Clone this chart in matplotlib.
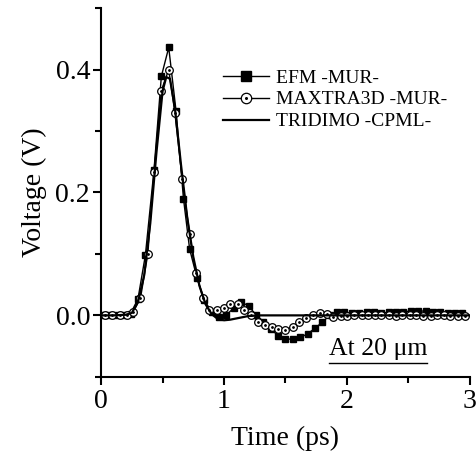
import matplotlib
matplotlib.use("Agg")
import matplotlib.pyplot as plt
from matplotlib.ticker import MultipleLocator
from matplotlib.lines import Line2D
from matplotlib.legend_handler import HandlerTuple

plt.rcParams.update({
    "font.family": ["Liberation Serif", "DejaVu Serif"],
    "axes.linewidth": 1.5,
    "xtick.major.width": 1.5,
    "ytick.major.width": 1.5,
    "xtick.minor.width": 1.5,
    "ytick.minor.width": 1.5,
    "xtick.major.size": 6,
    "ytick.major.size": 6,
    "xtick.minor.size": 4,
    "ytick.minor.size": 4,
    "xtick.direction": "out",
    "ytick.direction": "out",
})

# ---- data ----
efm_t = [0.00, 0.06, 0.12, 0.18, 0.24, 0.30, 0.36, 0.43, 0.49, 0.55, 0.61,
         0.67, 0.72, 0.78, 0.84, 0.90, 0.96, 1.02, 1.08, 1.14, 1.20, 1.26,
         1.32, 1.38, 1.44, 1.50, 1.56, 1.62, 1.68, 1.74, 1.80, 1.86, 1.92,
         1.98, 2.04, 2.10, 2.16, 2.22, 2.28, 2.34, 2.40, 2.46, 2.52, 2.58,
         2.64, 2.70, 2.76, 2.82, 2.88, 2.94]
efm_v = [0.000, 0.000, 0.000, 0.000, 0.003, 0.027, 0.098, 0.236, 0.389, 0.436,
         0.332, 0.190, 0.108, 0.061, 0.025, 0.005, -0.003, 0.001, 0.012, 0.022,
         0.015, 0.001, -0.010, -0.022, -0.033, -0.038, -0.039, -0.036, -0.030,
         -0.021, -0.011, 0.000, 0.005, 0.005, 0.004, 0.004, 0.005, 0.005,
         0.004, 0.005, 0.005, 0.006, 0.007, 0.007, 0.007, 0.006, 0.005, 0.004,
         0.004, 0.004]

max_t = [0.03, 0.09, 0.15, 0.21, 0.26, 0.32, 0.38, 0.43, 0.49, 0.55, 0.60,
         0.66, 0.72, 0.77, 0.83, 0.88, 0.94, 1.00, 1.05, 1.11, 1.16, 1.22,
         1.28, 1.33, 1.39, 1.44, 1.50, 1.56, 1.61, 1.67, 1.72, 1.78, 1.84,
         1.89, 1.95, 2.00, 2.06, 2.12, 2.17, 2.23, 2.28, 2.34, 2.40, 2.45,
         2.51, 2.56, 2.62, 2.68, 2.73, 2.79, 2.84, 2.90, 2.96]
max_v = [0.000, 0.000, 0.000, 0.000, 0.005, 0.028, 0.100, 0.234, 0.366, 0.400,
         0.330, 0.222, 0.133, 0.069, 0.028, 0.009, 0.008, 0.012, 0.018, 0.018,
         0.009, 0.000, -0.010, -0.015, -0.019, -0.022, -0.023, -0.019, -0.011,
         -0.004, 0.001, 0.004, 0.003, -0.002, -0.001, -0.001, 0.000, 0.000,
         0.001, 0.001, 0.000, 0.000, -0.001, 0.000, 0.000, 0.000, -0.001,
         -0.001, 0.000, 0.000, -0.001, -0.001, -0.001]

tri_t = [0.00, 0.10, 0.20, 0.25, 0.30, 0.35, 0.40, 0.45, 0.50, 0.53, 0.56,
         0.60, 0.65, 0.70, 0.75, 0.80, 0.85, 0.90, 0.95, 1.00, 1.05, 1.10,
         1.15, 1.20, 1.30, 1.50, 1.80, 2.00, 2.50, 3.00]
tri_v = [0.000, 0.000, 0.001, 0.004, 0.022, 0.065, 0.150, 0.265, 0.365, 0.388,
         0.385, 0.338, 0.245, 0.160, 0.095, 0.048, 0.018, 0.002, -0.006,
         -0.008, -0.007, -0.005, -0.003, -0.001, 0.000, 0.000, 0.000, 0.000,
         0.000, 0.000]

fig = plt.figure(figsize=(4.77, 4.54), dpi=100)
ax = fig.add_axes([0.212, 0.170, 0.773, 0.812])

ax.plot(efm_t, efm_v, color="black", lw=1.0, marker="s", ms=5,
        mfc="black", mec="black", zorder=2)
ax.plot(max_t, max_v, color="black", lw=1.0, marker="o", ms=5.5,
        mfc="white", mec="black", mew=0.9, zorder=3)
ax.plot(max_t, max_v, ls="none", marker="o", ms=1.0, color="black", zorder=4)
ax.plot(tri_t, tri_v, color="black", lw=1.6, zorder=5)

ax.set_xlim(0, 3)
ax.set_ylim(-0.1, 0.5)
ax.xaxis.set_major_locator(MultipleLocator(1))
ax.xaxis.set_minor_locator(MultipleLocator(0.5))
ax.yaxis.set_major_locator(MultipleLocator(0.2))
ax.yaxis.set_minor_locator(MultipleLocator(0.1))
ax.xaxis.set_major_formatter(plt.FuncFormatter(lambda v, p: f"{v:.0f}"))
ax.yaxis.set_major_formatter(plt.FuncFormatter(lambda v, p: f"{v:.1f}"))
ax.tick_params(axis="x", labelsize=20, pad=3)
ax.tick_params(axis="y", labelsize=20, pad=2)
for s in ("top", "right"):
    ax.spines[s].set_visible(False)

ax.set_xlabel("Time (ps)", fontsize=20, labelpad=8)
ax.set_ylabel("Voltage (V)", fontsize=20, labelpad=6)

h_efm = Line2D([], [], color="black", lw=1.0, marker="s", ms=7)
h_max = Line2D([], [], color="black", lw=1.0, marker="o", ms=7.5,
               mfc="white", mec="black", mew=0.9)
h_dot = Line2D([], [], ls="none", marker="o", ms=1.2, color="black")
h_tri = Line2D([], [], color="black", lw=1.6)
ax.legend([h_efm, (h_max, h_dot), h_tri],
          ["EFM -MUR-", "MAXTRA3D -MUR-", "TRIDIMO -CPML-"],
          handler_map={tuple: HandlerTuple(ndivide=1)},
          loc="upper left", bbox_to_anchor=(0.33, 0.835), frameon=False,
          fontsize=14, handlelength=2.4, handletextpad=0.35,
          labelspacing=0.22, borderpad=0, borderaxespad=0)

ax.text(1.85, -0.065, "At 20 \u03bcm", fontsize=18.5, ha="left",
        va="baseline")
ax.plot([1.85, 2.65], [-0.077, -0.077], color="black", lw=1.0,
        clip_on=False)

fig.savefig("out.png", dpi=100)
